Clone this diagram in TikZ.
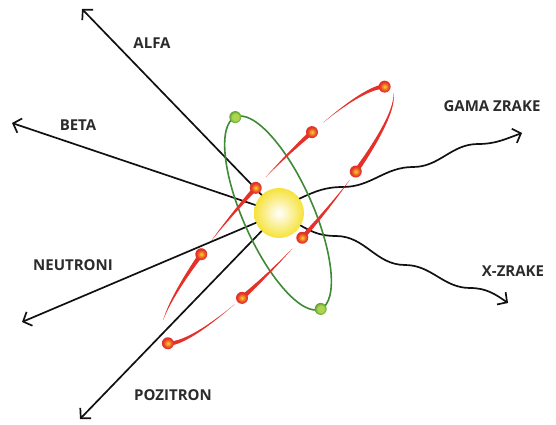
\documentclass[tikz,border=0pt]{standalone}
\usepackage{fontspec}
\setsansfont{Open Sans}
\usepackage{tikz}
\usetikzlibrary{arrows.meta,positioning}
\definecolor{atomInk}{HTML}{111111}
\definecolor{atomText}{HTML}{2B2B2B}
\definecolor{atomRed}{HTML}{E4322B}
\definecolor{atomOrange}{HTML}{F08A24}
\definecolor{atomCore}{HTML}{F9D52A}
\definecolor{atomGreen}{HTML}{3E8A35}
\definecolor{atomLime}{HTML}{ADD451}
\definecolor{atomLeaf}{HTML}{5C9F30}
\definecolor{atomYellow}{HTML}{F6E23A}
\pgfdeclareradialshading{atomelectron}{\pgfpoint{0bp}{0bp}}{color(0bp)=(atomCore); color(8bp)=(atomOrange); color(18bp)=(atomRed); color(25bp)=(atomRed); color(50bp)=(atomRed)}
\pgfdeclareradialshading{atomgreen}{\pgfpoint{0bp}{0bp}}{color(0bp)=(atomLime); color(12bp)=(atomLime); color(22bp)=(atomLeaf); color(25bp)=(atomLeaf); color(50bp)=(atomLeaf)}
\tikzset{
  atom diagram/.style={line cap=round, line join=round},
  atom ray/.style={draw=atomInk, line width=1.7pt,
    -{Straight Barb[length=7pt,width=15pt]}},
  atom label/.style={font=\sffamily\bfseries\fontsize{15}{18}\selectfont,
    text=atomText, inner sep=0pt},
  atom shell/.style={draw=atomGreen, line width=1.6pt},
  atom nucleus/.style={circle, minimum size=50pt, inner sep=0pt,
    inner color=white, outer color=atomYellow}
}
% one electron on the red orbit: tapered tail from #1 to #2 (degrees), ball at #2
\newcommand{\atomcomet}[2]{%
  \foreach \k in {0,...,29}{%
    \pgfmathsetmacro{\ta}{#1+(#2-#1)*\k/30}%
    \pgfmathsetmacro{\tb}{#1+(#2-#1)*(\k+1)/30}%
    \pgfmathsetmacro{\lw}{0.15+4.3*(\k/29)^1.1}%
    \draw[draw=atomRed, line width=\lw pt]
      ({170*cos(\ta)},{34*sin(\ta)}) -- ({170*cos(\tb)},{34*sin(\tb)});
  }%
  \shade[shading=atomelectron] ({170*cos(#2)},{34*sin(#2)}) circle (6);
}

\begin{document}
\begin{tikzpicture}[atom diagram,x=1pt,y=1pt]
\useasboundingbox (0,0) rectangle (556,424);

\node[atom nucleus] (nuc) at (279,211) {};

% tips of the radiation arrows
\coordinate (alfaTip) at (82,415);
\coordinate (betaTip) at (12,301);
\coordinate (neutroniTip) at (22,102);
\coordinate (pozitronTip) at (80,5);
\coordinate (gamaTip) at (522,291);
\coordinate (xTip) at (508,121);

\draw[atom ray] (nuc) -- (alfaTip);
\draw[atom ray] (nuc) -- (betaTip);
\draw[atom ray] (nuc) -- (neutroniTip);
\draw[atom ray] (nuc) -- (pozitronTip);
\draw[atom ray] (nuc.35) to[out=25,in=180] (343,237) to[out=0,in=180] (413,257)
  to[out=0,in=180] (478,280) to[out=0,in=200] (gamaTip);
\draw[atom ray] (nuc.-30) to[out=-30,in=180] (336,188) to[out=0,in=180] (405,159)
  to[out=0,in=180] (470,136) to[out=0,in=145] (xTip);

% green shell
\begin{scope}[shift={(278,211)},rotate=114]
  \draw[atom shell] (0,0) ellipse (105 and 35);
  \shade[shading=atomgreen] (105,0) circle (6);
  \shade[shading=atomgreen] (-105,0) circle (6);
\end{scope}

% red orbit with eight electrons
\begin{scope}[shift={(277,209)},rotate=48]
  \atomcomet{54}{10}
  \atomcomet{-8}{-60}
  \atomcomet{-64}{-90}
  \atomcomet{-95}{-120}
  \atomcomet{-124}{-172}
  \atomcomet{-205}{-242}
  \atomcomet{-248}{-272}
  \atomcomet{-277}{-300}
\end{scope}

\node[atom label] (alfa) at (152,381) {ALFA};
\node[atom label] (beta) at (78,299) {BETA};
\node[atom label] (gama) at (492,318) {GAMA ZRAKE};
\node[atom label] (xzrake) at (513,153) {X-ZRAKE};
\node[atom label] (neutroni) at (73,159) {NEUTRONI};
\node[atom label] (pozitron) at (173,29) {POZITRON};
\end{tikzpicture}
\end{document}
